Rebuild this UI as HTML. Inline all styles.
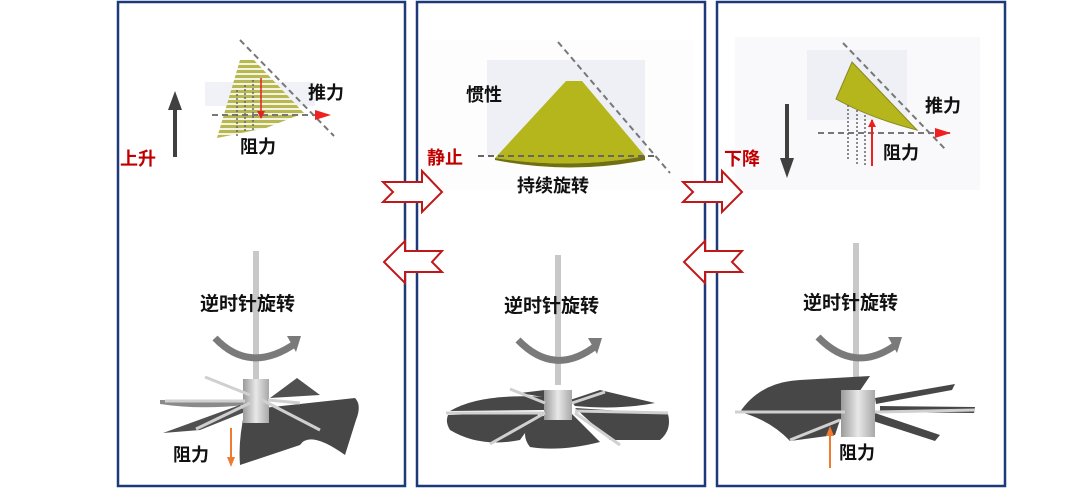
<!DOCTYPE html>
<html><head><meta charset="utf-8"><style>
html,body{margin:0;padding:0;background:#fff;width:1080px;height:504px;overflow:hidden}
svg{display:block}
text{font-family:"Liberation Sans","Noto Sans CJK SC",sans-serif;font-weight:bold}
</style></head><body>
<svg width="1080" height="504" viewBox="0 0 1080 504" xmlns="http://www.w3.org/2000/svg">
<defs>
<pattern id="stripe" width="6" height="5" patternUnits="userSpaceOnUse">
<rect width="6" height="5" fill="#f4f4e6"/><rect width="6" height="3" fill="#b8b850"/>
</pattern>
<marker id="ra" markerWidth="8" markerHeight="8" refX="7" refY="4" orient="auto" markerUnits="userSpaceOnUse"><path d="M0,0 L8,4 L0,8z" fill="#e82020"/></marker>
<marker id="rah" markerWidth="16" markerHeight="10" refX="15" refY="5" orient="auto" markerUnits="userSpaceOnUse"><path d="M0,0 L16,5 L0,10z" fill="#f02020"/></marker>
<linearGradient id="hub" x1="0" x2="1"><stop offset="0" stop-color="#9a9a9a"/><stop offset="0.5" stop-color="#e8e8e8"/><stop offset="1" stop-color="#a8a8a8"/></linearGradient>
</defs>

<!-- panels -->
<rect x="118" y="2" width="287" height="484" fill="none" stroke="#1c3a7a" stroke-width="2.5"/>
<rect x="417" y="2" width="288" height="484" fill="none" stroke="#1c3a7a" stroke-width="2.5"/>
<rect x="717" y="2" width="288" height="484" fill="none" stroke="#1c3a7a" stroke-width="2.5"/>

<!-- LEFT TOP -->
<rect x="205" y="82" width="110" height="24" fill="#f1f2f7"/>
<polygon points="240,60 254,60 304,113 266,128 217,138" fill="url(#stripe)"/>
<line x1="240" y1="40" x2="334" y2="136" stroke="#777" stroke-width="2" stroke-dasharray="6,4"/>
<line x1="212" y1="115" x2="330" y2="115" stroke="#777" stroke-width="2" stroke-dasharray="6,4" marker-end="url(#rah)"/>
<g stroke="#666" stroke-width="1.5" stroke-dasharray="2,2"><line x1="237" y1="90" x2="237" y2="138"/><line x1="245" y1="85" x2="245" y2="132"/><line x1="253" y1="80" x2="253" y2="130"/></g>
<line x1="261" y1="78" x2="261" y2="118" stroke="#e82020" stroke-width="1.5" marker-end="url(#ra)"/>
<text x="308" y="99" font-size="18" fill="#111">推力</text>
<text x="240" y="153" font-size="18" fill="#111">阻力</text>
<rect x="173" y="108" width="4" height="49" fill="#404040"/>
<polygon points="168,110 175,91 182,110" fill="#404040"/>
<text x="120" y="165" font-size="18" fill="#c00000">上升</text>

<!-- MIDDLE TOP -->
<rect x="423" y="40" width="270" height="150" fill="#fdfdfe"/>
<rect x="487" y="60" width="158" height="95" fill="#eef0f6"/>
<path d="M566,81 L582,81 L645,156 Q570,170 495,158 Z" fill="#b5b51c"/>
<path d="M495,158 Q570,170 645,156 L645,160 Q570,175 495,160 Z" fill="#707010"/>
<line x1="478" y1="156" x2="655" y2="156" stroke="#666" stroke-width="2" stroke-dasharray="6,4"/>
<line x1="558" y1="42" x2="670" y2="173" stroke="#777" stroke-width="2" stroke-dasharray="6,4"/>
<text x="466" y="101" font-size="18" fill="#111">惯性</text>
<text x="427" y="164" font-size="18" fill="#c00000">静止</text>
<text x="517" y="192" font-size="18" fill="#111">持续旋转</text>

<!-- RIGHT TOP -->
<rect x="735" y="37" width="245" height="153" fill="#f9f9fb"/>
<rect x="807" y="50" width="100" height="70" fill="#eef0f6"/>
<path d="M852,62 L917,130 Q870,118 836,99 Z" fill="#b5b51c" stroke="#888820" stroke-width="1"/>
<line x1="843" y1="43" x2="946" y2="150" stroke="#777" stroke-width="2" stroke-dasharray="6,4"/>
<line x1="818" y1="133" x2="950" y2="133" stroke="#777" stroke-width="2" stroke-dasharray="6,4" marker-end="url(#rah)"/>
<g stroke="#666" stroke-width="1.5" stroke-dasharray="2,2"><line x1="848" y1="105" x2="848" y2="160"/><line x1="857" y1="110" x2="857" y2="165"/><line x1="865" y1="115" x2="865" y2="165"/></g>
<line x1="872" y1="166" x2="872" y2="120" stroke="#f02020" stroke-width="2" marker-end="url(#ra)"/>
<text x="925" y="112" font-size="18" fill="#111">推力</text>
<text x="883" y="159" font-size="18" fill="#111">阻力</text>
<rect x="785" y="104" width="4" height="56" fill="#404040"/>
<polygon points="780,158 787,178 794,158" fill="#404040"/>
<text x="724" y="165" font-size="18" fill="#c00000">下降</text>

<!-- double arrows -->
<g fill="#fff" stroke="#c01818" stroke-width="2">
<path d="M383,182 L422,182 L422,171 L442,192 L422,212 L422,202 L383,202 L393,192 Z"/>
<path d="M683,182 L722,182 L722,171 L742,192 L722,212 L722,202 L683,202 L693,192 Z"/>
<path d="M442,251 L405,251 L405,241 L384,262 L405,283 L405,272 L442,272 L432,262 Z"/>
<path d="M742,251 L705,251 L705,241 L684,262 L705,283 L705,272 L742,272 L732,262 Z"/>
</g>

<!-- LEFT FAN -->
<rect x="253" y="251" width="6" height="130" fill="#c8c8c8"/>
<text x="200" y="310" font-size="19" fill="#111">逆时针旋转</text>
<path d="M215,338 Q250,375 296,343" fill="none" stroke="#7a7a7a" stroke-width="7"/>
<path d="M287,336 L301,336 L296,352 Z" fill="#7a7a7a"/>
<path d="M245,410 L355,398 Q362,405 356,420 L345,455 Q310,430 300,445 L240,465 Q238,440 245,410Z" fill="#474747"/>
<path d="M270,398 L297,378 L320,395 Z" fill="#505050"/>
<path d="M160,400 L245,401 L245,405 Q200,410 160,404 Z" fill="#8a8a8a"/>
<path d="M163,433 L240,405 L245,412 L200,430 Z" fill="#505050"/>
<rect x="243" y="379" width="26" height="44" fill="url(#hub)"/>
<g stroke="#d0d0d0" stroke-width="3"><line x1="205" y1="377" x2="250" y2="395"/><line x1="250" y1="403" x2="196" y2="429"/><line x1="262" y1="400" x2="320" y2="430"/><line x1="165" y1="401" x2="245" y2="401"/><line x1="268" y1="400" x2="300" y2="403"/></g>
<rect x="230" y="428" width="2" height="30" fill="#f07a30"/>
<polygon points="227,457 235,457 231,467" fill="#f07a30"/>
<text x="173" y="461" font-size="18" fill="#111">阻力</text>

<!-- MIDDLE FAN -->
<rect x="555" y="255" width="6" height="130" fill="#c8c8c8"/>
<text x="504" y="312" font-size="19" fill="#111">逆时针旋转</text>
<path d="M518,340 Q555,378 597,345" fill="none" stroke="#7a7a7a" stroke-width="7"/>
<path d="M588,338 L602,338 L597,354 Z" fill="#7a7a7a"/>
<path d="M450,411 Q480,393 545,397 L545,410 Z" fill="#474747"/>
<path d="M448,415 L540,412 L520,440 Q480,448 450,430 Q445,422 448,415Z" fill="#474747"/>
<path d="M530,418 L570,412 L600,442 Q560,452 530,447 Q520,435 530,418Z" fill="#474747"/>
<path d="M575,408 L668,414 Q672,430 660,440 L610,440 Z" fill="#474747"/>
<path d="M570,400 L600,390 L655,403 Q620,410 575,406 Z" fill="#474747"/>
<path d="M520,393 L545,390 L548,398 Z" fill="#474747"/>
<rect x="544" y="390" width="28" height="30" fill="url(#hub)"/>
<g stroke="#d0d0d0" stroke-width="3"><line x1="446" y1="413" x2="545" y2="413"/><line x1="510" y1="389" x2="545" y2="403"/><line x1="545" y1="413" x2="490" y2="444"/><line x1="575" y1="413" x2="620" y2="445"/><line x1="575" y1="411" x2="668" y2="413"/><line x1="572" y1="403" x2="605" y2="392"/></g>

<!-- RIGHT FAN -->
<rect x="853" y="243" width="6" height="150" fill="#c8c8c8"/>
<text x="803" y="309" font-size="19" fill="#111">逆时针旋转</text>
<path d="M818,337 Q855,375 897,344" fill="none" stroke="#7a7a7a" stroke-width="7"/>
<path d="M888,337 L902,337 L897,353 Z" fill="#7a7a7a"/>
<path d="M740,412 Q760,382 800,380 L870,376 L840,420 L835,435 L790,441 Q770,420 740,412Z" fill="#474747"/>
<path d="M875,398 L955,384 L952,390 L876,404 Z" fill="#474747"/>
<path d="M880,406 L975,407 L974,413 L880,412 Z" fill="#474747"/>
<path d="M875,413 L940,435 L935,441 L870,420 Z" fill="#474747"/>
<rect x="841" y="390" width="34" height="47" fill="url(#hub)"/>
<g stroke="#d0d0d0" stroke-width="3"><line x1="735" y1="412" x2="845" y2="412"/><line x1="840" y1="420" x2="790" y2="440"/><line x1="875" y1="412" x2="975" y2="410"/></g>
<rect x="829" y="434" width="2" height="34" fill="#f07a30"/>
<polygon points="826,436 834,436 830,426" fill="#f07a30"/>
<text x="839" y="459" font-size="18" fill="#111">阻力</text>
</svg>
</body></html>
